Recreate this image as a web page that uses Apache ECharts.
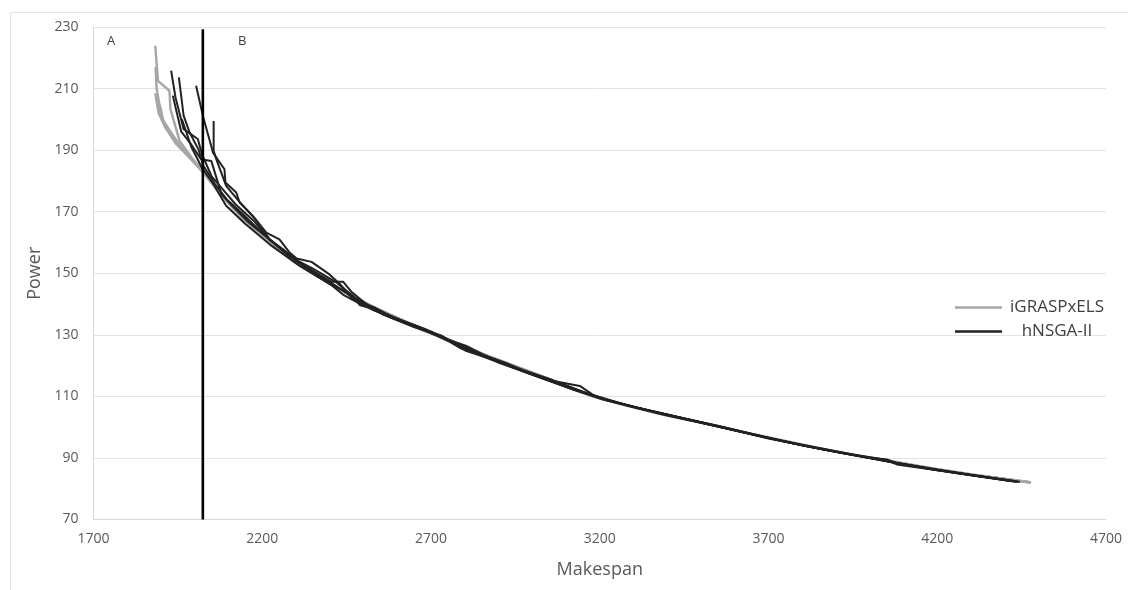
<!DOCTYPE html>
<html>
<head>
<meta charset="utf-8">
<script src="https://cdn.jsdelivr.net/npm/echarts@6/dist/echarts.min.js"></script>
<style>html,body{margin:0;padding:0;background:#fff;}#c{width:1128px;height:590px;}</style>
</head>
<body>
<div id="c"></div>
<script>
// ---- data ----
const xTicks = { min: 1700, max: 4700, step: 500 };
const yTicks = { min: 70, max: 230, step: 20 };
const dividerX = 2024;
const dividerTop = 229.3;
const regionLabels = ['A', 'B'];

const igrasp1 = [[1883,223.9],[1886,219.6],[1891,212.5],[1925,209.3],[1928,203.3],[1955,193],[1995,187],[2030,182.5],[2090,174],[2150,167],[2210,161.5],[2290,154],[2380,148],[2480,141.5],[2590,135.5],[2700,130.5],[2810,125.5],[2920,120.5],[3030,116],[3140,111.5],[3250,107.8],[3370,104.5],[3500,101.5],[3620,98.5],[3750,95.5],[3880,92.5],[4000,90],[4130,87.5],[4260,85],[4380,83.2],[4477,82]];
const igrasp2 = [[1883,208.5],[1893,202],[1912,197.5],[1945,192],[1985,187.5],[2025,183],[2080,175.5],[2140,168],[2200,162.5],[2270,156],[2350,150],[2440,144],[2540,138.5],[2650,133],[2760,128],[2870,123],[2980,118.5],[3090,113.8],[3200,109.3],[3320,106],[3440,103],[3560,100],[3680,97],[3810,94],[3940,91.3],[4060,89],[4190,86.5],[4320,84.3],[4440,82.6],[4470,82.2]];
const igrasp3 = [[1886,207],[1898,204],[1908,199],[1930,195.5],[1965,190],[2005,185.5],[2050,179.5],[2110,171.5],[2175,164.5],[2240,159],[2320,152.5],[2410,146],[2510,140],[2620,134.5],[2730,129.5],[2840,124.3],[2950,119.5],[3060,115],[3170,110.3],[3280,107],[3400,103.8],[3530,100.8],[3650,97.8],[3780,94.7],[3910,91.8],[4030,89.5],[4160,87],[4290,84.7],[4410,83],[4475,82.1]];
const igrasp4 = [[1884,217],[1887,210],[1895,205],[1902,200.5],[1925,196.5],[1955,191.5],[1990,187],[2030,182],[2070,176.5],[2130,169.5],[2190,163.5],[2260,157],[2340,151],[2430,145],[2530,139],[2640,133.5],[2750,128.5],[2860,123.5],[2970,119],[3080,114.5],[3190,109.8],[3310,106.3],[3430,103.3],[3550,100.3],[3670,97.3],[3800,94.2],[3930,91.5],[4050,89.2],[4180,86.7],[4310,84.5],[4430,82.8]];
const igrasp5 = [[1888,205.5],[1900,201],[1918,197],[1940,193.5],[1975,189],[2015,184.5],[2060,178],[2120,170.5],[2185,164],[2250,158.5],[2330,151.5],[2420,145.5],[2520,139.5],[2630,134],[2740,129],[2850,124],[2960,119.2],[3070,114.7],[3180,110],[3300,106.5],[3420,103.5],[3540,100.5],[3660,97.5],[3790,94.5],[3920,91.6],[4040,89.3],[4170,86.8],[4300,84.6],[4420,82.9],[4478,82]];

const hnsga1 = [[1930,215.8],[1943,207.1],[1967,196.8],[2009,193.6],[2022,188.5],[2050,181.5],[2085,177],[2120,172.5],[2175,167],[2220,161],[2265,157.5],[2320,152.5],[2390,147.5],[2440,143],[2500,139.5],[2577,135.8],[2650,132.5],[2730,129.8],[2805,124.7],[2870,122.5],[2960,119],[3060,115.3],[3141,111.8],[3230,108.5],[3350,105.3],[3470,102.3],[3590,99.2],[3700,96.3],[3820,93.7],[3940,91.2],[4040,89.6],[4080,87.9],[4200,86],[4320,84.2],[4420,82.5]];
const hnsga2 = [[1953,213.6],[1967,201.2],[1985,195.7],[2012,190],[2025,185],[2060,179],[2095,174],[2140,169.5],[2200,163],[2245,159],[2300,154],[2370,149.5],[2406,147.2],[2440,147.2],[2465,143.9],[2530,138],[2620,134.3],[2700,131],[2780,126.5],[2880,122],[2990,117.5],[3100,113.5],[3200,109.5],[3310,106.3],[3430,103.3],[3560,100.2],[3680,97],[3800,94.1],[3920,91.6],[4050,88.9],[4170,86.6],[4300,84.4],[4410,82.6],[4440,82.2]];
const hnsga3 = [[2004,210.9],[2024,201.2],[2054,189.2],[2088,183.8],[2091,179.5],[2123,176.2],[2133,173],[2172,168.6],[2212,163.2],[2251,161],[2281,156.7],[2302,154.8],[2346,153.7],[2396,149.9],[2430,146.5],[2469,141.5],[2530,139],[2600,135],[2680,132],[2760,128],[2840,124],[2930,120.5],[3040,115.5],[3141,113.4],[3180,110.5],[3290,106.8],[3400,103.8],[3520,100.9],[3640,98],[3760,95],[3880,92.3],[4000,90],[4051,89.5],[4080,88.3],[4200,86.2],[4330,84],[4445,82.3]];
const hnsga4 = [[2056,199.5],[2056,189.8],[2064,187],[2093,178.4],[2130,173.5],[2180,167.5],[2222,161],[2280,155.5],[2350,151.5],[2420,147],[2475,142],[2550,137.5],[2640,133.5],[2720,130],[2790,125.5],[2890,121.5],[3000,117],[3110,112.7],[3210,109],[3330,105.8],[3450,102.8],[3570,99.8],[3690,96.8],[3810,93.9],[3930,91.4],[4060,88.8],[4190,86.4],[4310,84.3],[4430,82.4]];
const hnsga5 = [[1935,207.7],[1960,196],[1985,192.5],[2019,187],[2049,186.5],[2079,175.7],[2110,172],[2160,166.5],[2210,162],[2260,157.5],[2330,151.8],[2410,146.5],[2490,140.5],[2570,136.3],[2660,132.8],[2740,128.5],[2820,125],[2910,121],[3020,116.3],[3130,112],[3240,108.3],[3360,105],[3480,102],[3600,99],[3720,96],[3840,93.4],[3960,90.9],[4090,88.2],[4210,85.9],[4340,83.8],[4435,82.3]];
const hnsga6 = [[1962,200],[1990,191],[2020,184.5],[2055,179],[2093,171.9],[2150,166],[2222,159.4],[2311,152.4],[2400,146.5],[2460,143.4],[2490,139.6],[2529,138.5],[2560,136.5],[2650,132.6],[2740,128.8],[2805,126.4],[2900,121],[3010,116.8],[3120,112.3],[3220,108.8],[3340,105.5],[3460,102.5],[3580,99.5],[3700,96.5],[3830,93.5],[3950,91],[4070,88.5],[4200,86],[4330,84],[4425,82.5]];

const grayRuns = [igrasp1, igrasp2, igrasp3, igrasp4, igrasp5];
const blackRuns = [hnsga1, hnsga2, hnsga3, hnsga4, hnsga5, hnsga6];
const names = ['iGRASPxELS', 'hNSGA-II'];

// ---- chart ----
const chart = echarts.init(document.getElementById('c'), null, { renderer: 'canvas' });
const FONT = '"Open Sans", "Liberation Sans", sans-serif';
const GRAY = '#a6a6a6', DARK = '#222222';
const series = [];
grayRuns.forEach(d => series.push({
  name: names[0], type: 'line', data: d, symbol: 'none', showSymbol: false,
  lineStyle: { color: GRAY, width: 2.4 }, itemStyle: { color: GRAY }, z: 2
}));
blackRuns.forEach(d => series.push({
  name: names[1], type: 'line', data: d, symbol: 'none', showSymbol: false,
  lineStyle: { color: DARK, width: 2 }, itemStyle: { color: DARK }, z: 3
}));
series.push({
  name: 'divider', type: 'line', data: [[dividerX, yTicks.min], [dividerX, dividerTop]],
  symbol: 'none', lineStyle: { color: '#000', width: 2.6 }, z: 4
});

const lineIcon = 'path://M0,0L47,0L47,2.5L0,2.5Z';

chart.setOption({
  animation: false,
  backgroundColor: '#fff',
  textStyle: { fontFamily: FONT },
  grid: { left: 93.5, right: 22, top: 27, bottom: 70.5, containLabel: false },
  graphic: [
    { type: 'rect', left: 8, top: 10, shape: { width: 1140, height: 600 }, style: { fill: 'none', stroke: '#e3e3e3', lineWidth: 1 }, z: -1 },
    { type: 'text', left: 107, top: 35, style: { text: regionLabels[0], fill: '#404040', font: '13px ' + FONT } },
    { type: 'text', left: 238, top: 35, style: { text: regionLabels[1], fill: '#404040', font: '13px ' + FONT } }
  ],
  legend: {
    data: names.map(n => ({ name: n, icon: lineIcon })),
    orient: 'vertical', left: 955, top: 299, padding: 0,
    itemWidth: 47, itemHeight: 14, itemGap: 7,
    formatter: '{c|{name}}',
    textStyle: { color: '#404040', fontSize: 17, fontFamily: FONT,
      rich: { c: { width: 100, align: 'center', fontSize: 17, color: '#404040', fontFamily: FONT } } }
  },
  xAxis: {
    type: 'value', min: xTicks.min, max: xTicks.max, interval: xTicks.step,
    name: 'Makespan', nameLocation: 'middle', nameGap: 41,
    nameTextStyle: { color: '#595959', fontSize: 18, fontFamily: FONT },
    axisLine: { show: true, lineStyle: { color: '#d9d9d9', width: 1 } },
    axisTick: { show: false },
    axisLabel: { color: '#595959', fontSize: 14, margin: 13, fontFamily: FONT, formatter: v => String(v) },
    splitLine: { show: false }
  },
  yAxis: {
    type: 'value', min: yTicks.min, max: yTicks.max, interval: yTicks.step,
    name: 'Power', nameLocation: 'middle', nameGap: 47,
    nameTextStyle: { color: '#595959', fontSize: 18, fontFamily: FONT },
    axisLine: { show: true, lineStyle: { color: '#d9d9d9', width: 1 } },
    axisTick: { show: false },
    axisLabel: { color: '#595959', fontSize: 14, margin: 15, fontFamily: FONT, formatter: v => String(v) },
    splitLine: { show: true, lineStyle: { color: '#e3e3e3', width: 1 } }
  },
  series: series
});
</script>
</body>
</html>
